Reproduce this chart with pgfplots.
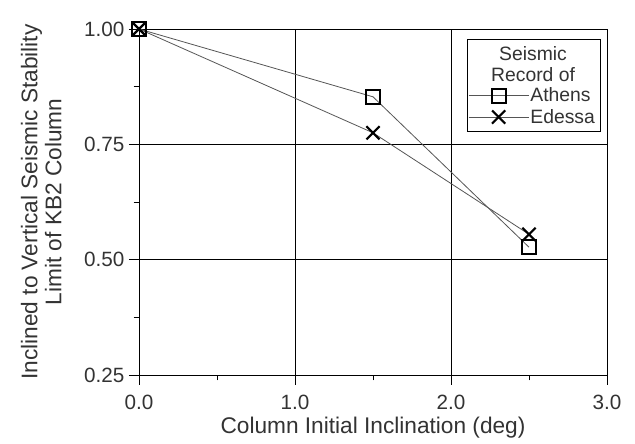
\documentclass[border=0pt]{standalone}
\usepackage{pgfplots}
\pgfplotsset{compat=1.18}
\usepackage{fontspec}
\setmainfont{Liberation Sans}
\definecolor{txt}{HTML}{333333}
\definecolor{ln}{HTML}{555555}
\begin{document}
\begin{tikzpicture}
\begin{axis}[
  scale only axis,
  width=351pt, height=259.5pt,
  xmin=0, xmax=3, ymin=0.25, ymax=1.0,
  xtick={0,1,2,3}, ytick={0.25,0.5,0.75,1.0},
  minor xtick={0.5,1.5,2.5}, minor ytick={0.375,0.625,0.875},
  tick pos=left, tick align=outside,
  major tick length=7.5pt, minor tick length=4pt,
  every tick/.style={black, line width=0.7pt},
  grid=major,
  major grid style={black, line width=0.7pt},
  axis line style={black, line width=0.7pt},
  /pgf/number format/assume math mode=true,
  xticklabel style={font=\fontsize{15.5}{18}\selectfont, text=txt, yshift=-4pt, /pgf/number format/.cd, fixed, fixed zerofill, precision=1},
  yticklabel style={font=\fontsize{15.5}{18}\selectfont, text=txt, /pgf/number format/.cd, fixed, fixed zerofill, precision=2},
  xlabel={Column Initial Inclination (deg)},
  ylabel={Inclined to Vertical Seismic Stability\\Limit of KB2 Column},
  label style={font=\fontsize{17}{18}\selectfont, text=txt},
  xlabel style={at={(axis description cs:0.5,-0.153)}, anchor=center},
  ylabel style={at={(axis description cs:-0.209,0.5)}, anchor=center, align=center},
  legend style={draw=none, fill=none, at={(axis description cs:0.703,0.835)}, anchor=north west,
    inner sep=0pt, row sep=2pt, font=\fontsize{14.5}{17}\selectfont, text=txt,
    nodes={inner sep=1pt}},
  legend cell align=left,
  legend image code/.code={\draw[mark repeat=2, mark phase=2] plot coordinates {(0pt,0pt) (22.5pt,0pt) (45pt,0pt)};},
]
\fill[white] (axis description cs:0.701,0.705) rectangle (axis description cs:0.985,0.971);
\draw[black, line width=0.7pt] (axis description cs:0.701,0.705) rectangle (axis description cs:0.985,0.971);
\node[font=\fontsize{14.5}{17}\selectfont, text=txt] at (axis description cs:0.842,0.929) {Seismic};
\node[font=\fontsize{14.5}{17}\selectfont, text=txt] at (axis description cs:0.842,0.867) {Record of};
\addplot[ln, line width=0.6pt, mark=square, mark size=5.3pt, mark options={black, line width=1.5pt}]
  coordinates {(0,1.0) (1.5,0.853) (2.5,0.527)};
\addlegendentry{Athens}
\addplot[ln, line width=0.6pt, mark=x, mark size=7pt, mark options={black, line width=1.6pt}]
  coordinates {(0,1.0) (1.5,0.775) (2.5,0.555)};
\addlegendentry{Edessa}
\end{axis}
\pgfresetboundingbox
\path[use as bounding box] ([xshift=-104.25pt,yshift=-51.75pt]current axis.south west) rectangle ([xshift=21pt,yshift=21.75pt]current axis.north east);
\end{tikzpicture}
\end{document}
